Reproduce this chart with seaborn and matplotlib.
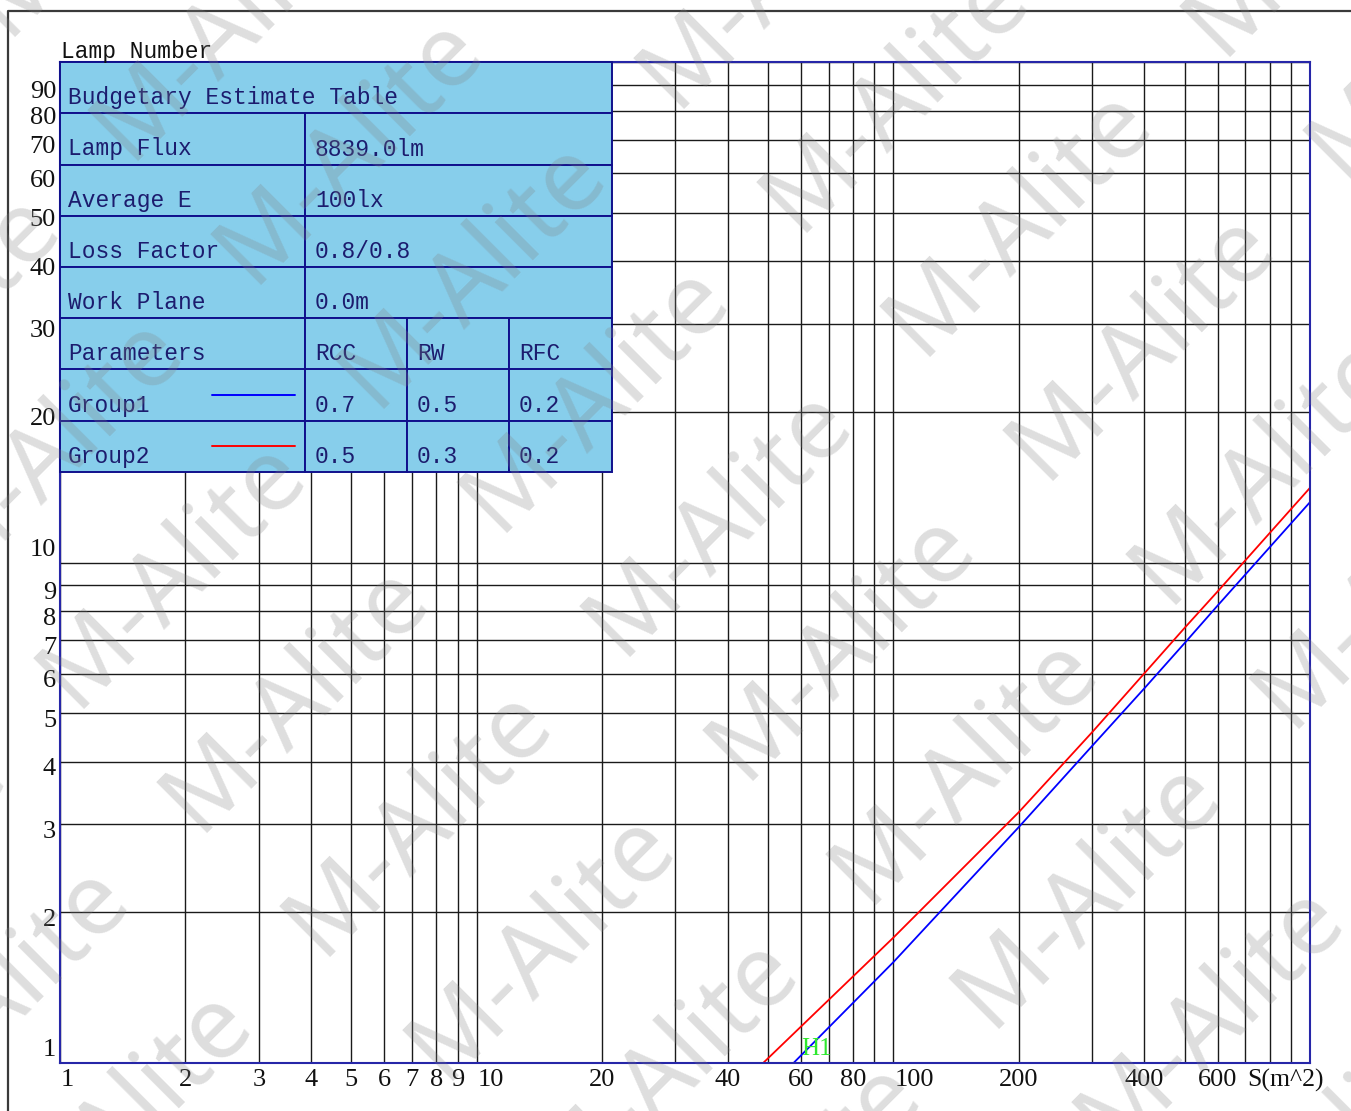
import numpy as np
import pandas as pd
import matplotlib
matplotlib.use('Agg')
import matplotlib.pyplot as plt
import matplotlib.transforms as mtrans
from matplotlib.patches import Rectangle
from matplotlib.lines import Line2D
import seaborn as sns

# curve data: lamp number N against area S (m^2)
areas_g1 = [57.6, 100, 200, 300, 400, 500, 600, 1000]
lamps_g1 = [1, 1.59, 2.96, 4.3, 5.6, 6.9, 8.2, 13.2]
areas_g2 = [48.7, 100, 200, 300, 400, 500, 600, 1000]
lamps_g2 = [1, 1.78, 3.17, 4.58, 6.0, 7.4, 8.75, 14.1]

# axis grid / tick labels
x_grid = [1, 2, 3, 4, 5, 6, 7, 8, 9, 10, 20, 30, 40, 50, 60, 70, 80, 90,
          100, 200, 300, 400, 500, 600, 700, 800, 900, 1000]
x_labels = [1, 2, 3, 4, 5, 6, 7, 8, 9, 10, 20, 40, 60, 80, 100, 200, 400, 600]
y_grid = [1, 2, 3, 4, 5, 6, 7, 8, 9, 10, 20, 30, 40, 50, 60, 70, 80, 90, 100]
y_labels = [1, 2, 3, 4, 5, 6, 7, 8, 9, 10, 20, 30, 40, 50, 60, 70, 80, 90]

# budgetary table content
table_title = 'Budgetary Estimate Table'
info_names = ['Lamp Flux', 'Average E', 'Loss Factor', 'Work Plane']
info_values = ['8839.0lm', '100lx', '0.8/0.8', '0.0m']
param_header = ['Parameters', 'RCC', 'RW', 'RFC']
groups = ['Group1', 'Group2']
rcc = ['0.7', '0.5']
rw = ['0.5', '0.3']
rfc = ['0.2', '0.2']
group_colors = {'Group1': '#0000ff', 'Group2': '#ff0000'}

watermark = 'M-Alite'

sns.set_style('white')
plt.rcParams['font.family'] = ['Liberation Mono', 'DejaVu Sans']

W, H = 1351, 1111
fig = plt.figure(figsize=(W / 100, H / 100), dpi=100)

def fx(px):
    return px / W

def fy(py):
    return 1 - py / H

AX_L, AX_R, AX_T, AX_B = 60, 1310, 62, 1063
ax = fig.add_axes([fx(AX_L), fy(AX_B), (AX_R - AX_L) / W, (AX_B - AX_T) / H])

def axx(px):
    return (px - AX_L) / (AX_R - AX_L)

def axy(py):
    return (AX_B - py) / (AX_B - AX_T)

df = pd.DataFrame({
    'S': areas_g1 + areas_g2,
    'N': lamps_g1 + lamps_g2,
    'group': ['Group1'] * len(areas_g1) + ['Group2'] * len(areas_g2),
})
sns.lineplot(data=df, x='S', y='N', hue='group', palette=group_colors,
             estimator=None, sort=False, legend=False, linewidth=1.3, ax=ax)

ax.set_xscale('log')
ax.set_yscale('log')
ax.set_xlim(1, 1000)
ax.set_ylim(1, 100)
ax.set_xticks(x_grid)
ax.set_yticks(y_grid)
ax.set_xticks([], minor=True)
ax.set_yticks([], minor=True)
ax.set_xticklabels([])
ax.set_yticklabels([])
ax.tick_params(length=0)
ax.set_xlabel('')
ax.set_ylabel('')
ax.set_axisbelow(True)
ax.grid(True, which='major', color='#1a1a1a', linewidth=1.0)
for sp in ax.spines.values():
    sp.set_color('#2626a8')
    sp.set_linewidth(1.5)

tick_font = dict(family='Liberation Serif', size=19, color='#111111')

# x tick labels
xt = mtrans.blended_transform_factory(ax.transData, ax.transAxes)
for v in x_labels:
    decade = v in (1, 10, 100)
    off = mtrans.ScaledTranslation(0.01 if decade else 0, -0.17, fig.dpi_scale_trans)
    ax.text(v, 0, str(v), ha='left' if decade else 'center', va='center',
            transform=xt + off, **tick_font)
fig.text(fx(1247), fy(1080), 'S(m^2)', ha='left', va='center',
         family='Liberation Serif', size=18.5, color='#111111')

# y tick labels
yt = mtrans.blended_transform_factory(ax.transAxes, ax.transData)
for v in y_labels:
    dy = 0.13 if v in (1, 10) else -0.075
    off = mtrans.ScaledTranslation(-0.04, dy, fig.dpi_scale_trans)
    ax.text(0, v, str(v), ha='right', va='center', transform=yt + off, **tick_font)

fig.text(fx(61), fy(58), 'Lamp Number', ha='left', va='baseline',
         size=16.5, color='#111111')

# H1 label at the start of group 1
ax.text(60, 1, 'H1', ha='left', va='baseline', family='Liberation Serif', size=18,
        color='#2ee82e',
        transform=ax.transData + mtrans.ScaledTranslation(0, 0.08, fig.dpi_scale_trans))

# budgetary estimate table (top-left, over the grid)
fill = '#87ceeb'
edge = '#10108c'
txt_col = '#1c1c6e'
row_h = (472 - 62) / 8
cols = [60, 305, 407, 509, 612]

def cell(x0, x1, r):
    top = 62 + r * row_h
    ax.add_patch(Rectangle((axx(x0), axy(top + row_h)), axx(x1) - axx(x0),
                           axy(top) - axy(top + row_h), transform=ax.transAxes,
                           facecolor=fill, edgecolor=edge, linewidth=1.4,
                           zorder=5, clip_on=False))

def ctext(x0, r, s, pad=10):
    base = 62 + (r + 1) * row_h - 9
    ax.text(axx(x0 + pad), axy(base), s, transform=ax.transAxes, ha='left',
            va='baseline', size=16.5, color=txt_col, zorder=6, clip_on=False)

cell(cols[0], cols[4], 0)
ctext(cols[0], 0, table_title, pad=8)
for i, (name, val) in enumerate(zip(info_names, info_values)):
    r = i + 1
    cell(cols[0], cols[1], r)
    cell(cols[1], cols[4], r)
    ctext(cols[0], r, name, pad=8)
    ctext(cols[1], r, val)

r = 5
for c in range(4):
    cell(cols[c], cols[c + 1], r)
    ctext(cols[c], r, param_header[c], pad=8 if c == 0 else 10)

for g, name in enumerate(groups):
    r = 6 + g
    for c in range(4):
        cell(cols[c], cols[c + 1], r)
    ctext(cols[0], r, name, pad=8)
    ctext(cols[1], r, rcc[g])
    ctext(cols[2], r, rw[g])
    ctext(cols[3], r, rfc[g])
    ly = 62 + r * row_h + 25
    ax.add_line(Line2D([axx(212), axx(295)], [axy(ly), axy(ly)], transform=ax.transAxes,
                       color=group_colors[name], linewidth=1.4, zorder=6, clip_on=False))

# outer frame (cropped on the right and bottom)
fig.add_artist(Line2D([fx(8), fx(8), fx(W)], [fy(H), fy(11), fy(11)],
                      transform=fig.transFigure, color='#3a3a3a', linewidth=1.6))

# tiled watermark
em = 100.0
m0 = np.array([755.0, 733.0])
u = np.array([123.0, 124.0])
v = np.array([300.0, -300.0])
for i in range(-12, 13):
    for j in range(-12, 13):
        p = m0 + i * u + j * v
        if -500 < p[0] < 1450 and -100 < p[1] < 1550:
            ax_px = p[0] - 0.30 * em
            ay_px = p[1] + 0.30 * em
            fig.text(fx(ax_px), fy(ay_px), watermark, rotation=45, rotation_mode='anchor',
                     ha='left', va='center', family=['Noto Sans', 'DejaVu Sans'],
                     size=em * 0.72, color='#808080', alpha=0.26, zorder=20)

fig.savefig('out.png', dpi=100)
